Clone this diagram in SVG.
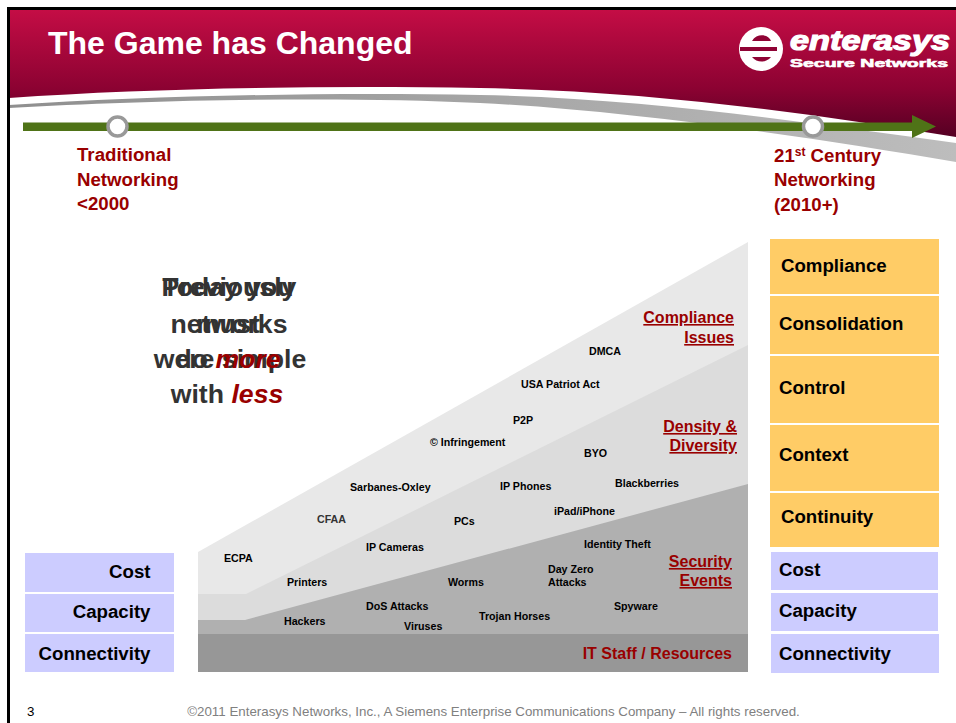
<svg xmlns="http://www.w3.org/2000/svg" width="956" height="723" viewBox="0 0 956 723">
<style>
text{font-family:"Liberation Sans",Arial,sans-serif}
.b{font-weight:700}
.lab{font-weight:700;font-size:18.67px;fill:#000}
.tl{font-weight:700;font-size:18.67px;fill:#990000}
.mid{font-weight:700;font-size:26.67px;fill:#333;text-anchor:middle}
.red{fill:#990000;font-style:italic}
.s{font-weight:700;font-size:10.67px;fill:#000}
.sec{font-weight:700;font-size:16px;fill:#990000;text-anchor:end;text-decoration:underline}
.o{fill:#ffcc66}
.p{fill:#ccccff}
</style>
<defs>
<linearGradient id="hdr" gradientUnits="userSpaceOnUse" x1="0" y1="10" x2="0" y2="140">
<stop offset="0" stop-color="#c40d45"/><stop offset="0.6" stop-color="#8c0232"/><stop offset="1" stop-color="#520022"/>
</linearGradient>
<linearGradient id="swoosh" gradientUnits="userSpaceOnUse" x1="9" y1="0" x2="956" y2="0">
<stop offset="0" stop-color="#8f8f8f"/><stop offset="0.5" stop-color="#a5a5a5"/><stop offset="1" stop-color="#bdbdbd"/>
</linearGradient>
</defs>
<rect width="956" height="723" fill="#fff"/>
<g id="header">
<path d="M9 98C150 88 320 85.500 480 88C650 91 800 112 956 137V9H9Z" fill="url(#hdr)"/>
<path d="M9 105C150 96 320 92 480 95C650 98.500 800 122 956 143V162C800 135 620 110 480 103C340 96 150 100 9 108Z" fill="url(#swoosh)"/>
<path d="M8.500 723V8.500H956" fill="none" stroke="#000" stroke-width="3"/>
<text x="48" y="54" class="b" font-size="32" fill="#fff">The Game has Changed</text>
</g>
<g id="logo">
<circle cx="761" cy="49" r="22" fill="#fff"/>
<path d="M740 41H771C768 34 757 33 752 41ZM740 47H777V51H740ZM752 57C757 63 766 63 771 57Z" fill="#8f0335"/>
<text x="790" y="50" font-size="27" font-weight="700" font-style="italic" fill="#fff" textLength="160" lengthAdjust="spacingAndGlyphs" stroke="#fff" stroke-width="1.200">enterasys</text>
<text x="790" y="67" font-size="11" font-weight="700" fill="#fff" textLength="158" lengthAdjust="spacingAndGlyphs" stroke="#fff" stroke-width=".6">Secure Networks</text>
</g>
<g id="timeline">
<path d="M23 122.500H912V115L936 126.500L912 138V131H23Z" fill="#4f7317"/>
<circle cx="117.500" cy="126.500" r="9.500" fill="#fff" stroke="#999" stroke-width="3.500"/>
<circle cx="813" cy="126.500" r="9.500" fill="#fff" stroke="#999" stroke-width="3.500"/>
</g>
<g id="node-traditional">
<text class="tl" x="77" y="161">Traditional</text>
<text class="tl" x="77" y="186">Networking</text>
<text class="tl" x="77" y="210">&lt;2000</text>
</g>
<g id="node-21st">
<text class="tl" x="774" y="162">21<tspan font-size="12" dy="-6">st</tspan><tspan dy="6"> Century</tspan></text>
<text class="tl" x="774" y="186">Networking</text>
<text class="tl" x="774" y="211">(2010+)</text>
</g>
<g id="node-wedge">
<path d="M198 552L748 242V672H198Z" fill="#e8e8e8"/>
<path d="M198 594H246L748 345V672H198Z" fill="#dcdcdc"/>
<path d="M198 620H245L748 484V672H198Z" fill="#b0b0b0"/>
<rect x="198" y="634" width="550" height="38" fill="#979797"/>
</g>
<g id="node-previously">
<text class="mid" x="229" y="296">Previously</text>
<text class="mid" x="229" y="333">networks</text>
<text class="mid" x="230" y="368">were simple</text>
</g>
<g id="node-today">
<text class="mid" x="228" y="296">Today you</text>
<text class="mid" x="228" y="333">must</text>
<text class="mid" x="228" y="368">do <tspan class="red">more</tspan></text>
<text class="mid" x="227" y="403">with <tspan class="red">less</tspan></text>
</g>
<g id="node-labels">
<text class="s" x="224" y="562">ECPA</text>
<text class="s" x="317" y="523" style="fill:#333">CFAA</text>
<text class="s" x="350" y="491">Sarbanes-Oxley</text>
<text class="s" x="430" y="446">© Infringement</text>
<text class="s" x="513" y="424">P2P</text>
<text class="s" x="521" y="388">USA Patriot Act</text>
<text class="s" x="589" y="355">DMCA</text>
<text class="s" x="584" y="457">BYO</text>
<text class="s" x="615" y="487">Blackberries</text>
<text class="s" x="500" y="490">IP Phones</text>
<text class="s" x="554" y="515">iPad/iPhone</text>
<text class="s" x="454" y="525">PCs</text>
<text class="s" x="366" y="551">IP Cameras</text>
<text class="s" x="287" y="586">Printers</text>
<text class="s" x="584" y="548">Identity Theft</text>
<text class="s" x="548" y="573">Day Zero</text>
<text class="s" x="548" y="586">Attacks</text>
<text class="s" x="448" y="586">Worms</text>
<text class="s" x="366" y="610">DoS Attacks</text>
<text class="s" x="614" y="610">Spyware</text>
<text class="s" x="479" y="620">Trojan Horses</text>
<text class="s" x="284" y="625">Hackers</text>
<text class="s" x="404" y="630">Viruses</text>
</g>
<g id="node-sections">
<text class="sec" x="734" y="323">Compliance</text>
<text class="sec" x="734" y="343">Issues</text>
<text class="sec" x="737" y="432">Density &amp;</text>
<text class="sec" x="737" y="451">Diversity</text>
<text class="sec" x="732" y="567">Security</text>
<text class="sec" x="732" y="586">Events</text>
<text x="732" y="659" font-size="16" font-weight="700" fill="#990000" text-anchor="end">IT Staff / Resources</text>
</g>
<g id="node-left-cost"><rect class="p" x="25" y="553" width="149" height="39"/><text class="lab" x="150.500" y="578" text-anchor="end">Cost</text></g>
<g id="node-left-capacity"><rect class="p" x="25" y="594" width="149" height="38"/><text class="lab" x="150.500" y="618" text-anchor="end">Capacity</text></g>
<g id="node-left-connectivity"><rect class="p" x="25" y="634" width="149" height="38"/><text class="lab" x="150.500" y="660" text-anchor="end">Connectivity</text></g>
<g id="node-compliance"><rect class="o" x="770" y="239" width="169" height="55"/><text class="lab" x="781" y="272">Compliance</text></g>
<g id="node-consolidation"><rect class="o" x="770" y="296" width="169" height="58"/><text class="lab" x="779" y="330">Consolidation</text></g>
<g id="node-control"><rect class="o" x="770" y="356" width="169" height="67"/><text class="lab" x="779" y="394">Control</text></g>
<g id="node-context"><rect class="o" x="770" y="425" width="169" height="66"/><text class="lab" x="779" y="461">Context</text></g>
<g id="node-continuity"><rect class="o" x="770" y="493" width="169" height="54"/><text class="lab" x="781" y="523">Continuity</text></g>
<g id="node-right-cost"><rect class="p" x="771" y="552" width="167" height="38"/><text class="lab" x="779" y="576">Cost</text></g>
<g id="node-right-capacity"><rect class="p" x="771" y="593" width="167" height="38"/><text class="lab" x="779" y="617">Capacity</text></g>
<g id="node-right-connectivity"><rect class="p" x="771" y="634" width="168" height="39"/><text class="lab" x="779" y="660">Connectivity</text></g>
<g id="footer">
<text x="27" y="716" font-size="13.330" fill="#000">3</text>
<text x="493.500" y="716" font-size="13.330" fill="#808080" text-anchor="middle">©2011 Enterasys Networks, Inc., A Siemens Enterprise Communications Company – All rights reserved.</text>
</g>
<g id="connectors"></g>
</svg>
